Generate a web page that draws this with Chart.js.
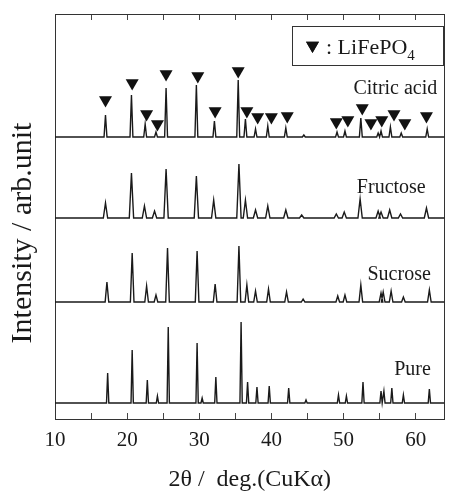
<!DOCTYPE html>
<html><head><meta charset="utf-8">
<script src="https://cdn.jsdelivr.net/npm/chart.js@4/dist/chart.umd.min.js"></script>
<style>html,body{margin:0;padding:0;background:#fff}canvas{display:block}</style>
</head><body>
<canvas id="c" width="452" height="494"></canvas>
<script>
// ---- data (2θ in degrees, intensity in arb. units) ----
const seriesNames = ['Citric acid', 'Fructose', 'Sucrose', 'Pure'];
const seriesOffsets = [282, 201, 117, 16];

const posCitric = [17.0,20.6,22.5,24.0,25.4,29.6,32.1,35.4,36.4,37.8,39.5,42.0,44.5,49.1,50.2,52.4,54.8,55.2,56.5,58.0,61.6];
const hCitric   = [22,42,13,5,49,52,16,57,18,8,11,9,2,5,6,19,4,6,10,4,8];

const posFructose = [17.0,20.6,22.4,23.8,25.4,29.6,32.0,35.5,36.4,37.8,39.5,42.0,44.2,49.0,50.1,52.3,54.8,55.2,56.4,57.9,61.5];
const hFructose   = [15,45,12,7,49,42,18,54,18,8,12,8,3,4,6,19,7,6,8,4,10];

const posSucrose = [17.2,20.7,22.7,24.0,25.6,29.7,32.2,35.5,36.6,37.8,39.6,42.1,44.4,49.2,50.2,52.4,55.2,55.5,56.6,58.3,61.9];
const hSucrose   = [20,49,16,7,54,51,18,56,17,11,13,10,3,6,7,17,9,10,11,5,12];

const posPure = [17.3,20.7,22.8,24.2,25.7,29.7,30.4,32.3,35.8,36.7,38.0,39.7,42.4,44.8,49.3,50.4,52.7,55.2,55.6,56.7,58.3,61.9];
const hPure   = [30,53,23,7,76,60,5,26,81,21,16,17,15,3,8,7,21,12,12,15,8,14];

const markerPos = [17.0,20.7,22.7,24.2,25.4,29.8,32.2,35.4,36.6,38.1,40.0,42.2,49.0,50.6,52.6,53.8,55.3,57.0,58.5,61.5];
const markerY   = [319,336,305,295,345,343,308,348,308,302,302,303,297,299,311,296,299,305,296,303];

const xTickLabels = ['10','20','30','40','50','60'];

// ---- chart construction ----
const X_MIN = 10, X_MAX = 64;
const halfWidths = [0.2, 0.3, 0.25, 0.16];
function trace(pos, h, base, hw) {
  const pts = [{x: X_MIN, y: base}];
  for (let i = 0; i < pos.length; i++) {
    pts.push({x: pos[i] - hw, y: base});
    pts.push({x: pos[i], y: base + h[i]});
    pts.push({x: pos[i] + hw, y: base});
  }
  pts.push({x: X_MAX, y: base});
  return pts;
}
const allPos = [posCitric, posFructose, posSucrose, posPure];
const allH = [hCitric, hFructose, hSucrose, hPure];
const SERIF = "'Liberation Serif', 'Times New Roman', serif";
const INK = '#1a1a1a';

const datasets = seriesNames.map((n, i) => ({
  label: n,
  data: trace(allPos[i], allH[i], seriesOffsets[i], halfWidths[i]),
  showLine: true,
  borderColor: INK,
  borderWidth: 1.4,
  pointRadius: 0,
  tension: 0
}));
datasets.push({
  label: 'LiFePO4',
  data: markerPos.map((x, i) => ({x, y: markerY[i]})),
  pointStyle: 'triangle',
  rotation: 180,
  radius: 7.5,
  backgroundColor: '#111',
  borderWidth: 0
});

const labelAnchors = [
  {x: 63.0, y: 330}, {x: 61.4, y: 231}, {x: 62.1, y: 144}, {x: 62.1, y: 49}
];

const annot = {
  id: 'annot',
  afterDatasetsDraw(chart) {
    const ctx = chart.ctx, xs = chart.scales.x, ys = chart.scales.y;
    ctx.save();
    ctx.fillStyle = INK;
    ctx.font = '20px ' + SERIF;
    ctx.textAlign = 'right';
    ctx.textBaseline = 'middle';
    seriesNames.forEach((n, i) => {
      ctx.fillText(n, xs.getPixelForValue(labelAnchors[i].x), ys.getPixelForValue(labelAnchors[i].y));
    });
    // y-axis title
    ctx.save();
    ctx.translate(23, 233);
    ctx.rotate(-Math.PI / 2);
    ctx.textAlign = 'center';
    ctx.font = '30px ' + SERIF;
    ctx.fillText('Intensity / arb.unit', 0, 0);
    ctx.restore();
    // legend box
    ctx.strokeStyle = '#333';
    ctx.lineWidth = 1;
    ctx.strokeRect(292.5, 26.5, 151, 39);
    Chart.helpers.drawPoint(ctx, {pointStyle: 'triangle', rotation: 180, radius: 7.5, borderWidth: 0}, 312.5, 45.5);
    ctx.fillStyle = '#111';
    ctx.fill();
    ctx.fillStyle = INK;
    ctx.textAlign = 'left';
    ctx.textBaseline = 'alphabetic';
    ctx.font = '22px ' + SERIF;
    const t = ': LiFePO';
    ctx.fillText(t, 326, 54);
    const w = ctx.measureText(t).width;
    ctx.font = '15px ' + SERIF;
    ctx.fillText('4', 326 + w, 60);
    ctx.restore();
  }
};

new Chart(document.getElementById('c'), {
  type: 'scatter',
  data: {datasets},
  options: {
    responsive: false,
    animation: false,
    layout: {padding: 0},
    plugins: {legend: {display: false}, tooltip: {enabled: false}},
    scales: {
      x: {
        type: 'linear', position: 'bottom', min: X_MIN, max: X_MAX,
        afterFit: s => { s.height = 75; s.paddingLeft = 0; s.paddingRight = 0; },
        ticks: {
          stepSize: 5, includeBounds: false, maxRotation: 0, autoSkip: false,
          callback: v => (xTickLabels.includes(String(v)) ? String(v) : ''),
          font: {family: SERIF, size: 21}, color: INK, padding: 15
        },
        grid: {drawOnChartArea: false, drawTicks: true, tickLength: -6, color: '#444', lineWidth: 1},
        border: {color: '#333', width: 1},
        title: {display: true, text: '2θ /  deg.(CuKα)', font: {family: SERIF, size: 24}, color: INK, padding: {top: 0, bottom: 0}}
      },
      x2: {
        type: 'linear', position: 'top', min: X_MIN, max: X_MAX,
        afterFit: s => { s.height = 14; s.paddingLeft = 0; s.paddingRight = 0; },
        ticks: {display: false, stepSize: 5, includeBounds: false},
        grid: {drawOnChartArea: false, drawTicks: true, tickLength: -6, color: '#444', lineWidth: 1},
        border: {color: '#333', width: 1}
      },
      y: {
        type: 'linear', position: 'left', min: 0, max: 405,
        afterFit: s => { s.width = 55; },
        ticks: {display: false},
        grid: {display: false},
        border: {color: '#333', width: 1}
      },
      y2: {
        type: 'linear', position: 'right', min: 0, max: 405,
        afterFit: s => { s.width = 0; },
        ticks: {display: false},
        grid: {display: false},
        border: {color: '#333', width: 1}
      }
    }
  },
  plugins: [annot]
});
</script>
</body></html>
